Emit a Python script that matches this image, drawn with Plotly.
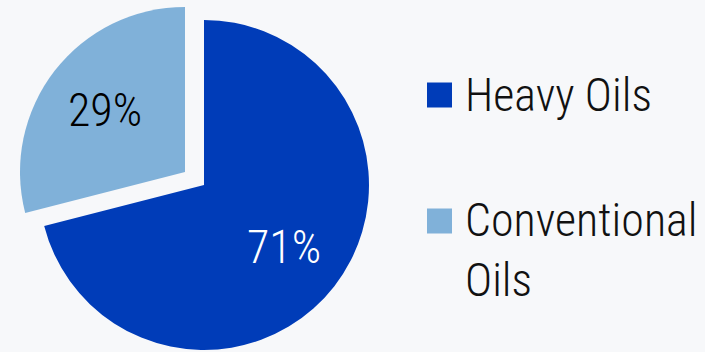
import math
import plotly.graph_objects as go

# Share of oil resources
labels = ["Heavy Oils", "Conventional Oils"]
values = [71, 29]
legend_names = ["Heavy Oils", "Conventional<br>Oils"]
colors = ["#003cb8", "#80b1d9"]
label_colors = ["white", "black"]

W, H = 705, 352
R = 165                      # pie radius in px
CX, CY = 204, 185            # centre of the main pie (px from top-left)
PULL_DX, PULL_DY = -19, -13  # offset of the exploded slice (px)
LABEL_R = 0.61               # radial position of the percentage labels

FONT = "Roboto Condensed, Liberation Sans Narrow, Arial Narrow, sans-serif"


def domain(cx, cy):
    return dict(
        x=[(cx - R) / W, (cx + R) / W],
        y=[(H - cy - R) / H, (H - cy + R) / H],
    )


fig = go.Figure()

# main pie: Heavy Oils slice in place, the other slice left empty
fig.add_trace(go.Pie(
    labels=labels, values=values, sort=False, direction="clockwise",
    domain=domain(CX, CY),
    marker=dict(colors=[colors[0], "rgba(0,0,0,0)"], line=dict(width=0)),
    textinfo="none", showlegend=False, hoverinfo="label+percent",
))

# same pie shifted up-left so the Conventional Oils slice sits exploded
fig.add_trace(go.Pie(
    labels=labels, values=values, sort=False, direction="clockwise",
    domain=domain(CX + PULL_DX, CY + PULL_DY),
    marker=dict(colors=["rgba(0,0,0,0)", colors[1]], line=dict(width=0)),
    textinfo="none", showlegend=False, hoverinfo="label+percent",
))

annotations, shapes = [], []

# percentage labels placed along each slice's bisector
total = sum(values)
start = 0.0
centres = [(CX, CY), (CX + PULL_DX, CY + PULL_DY)]
for v, col, (cx, cy) in zip(values, label_colors, centres):
    mid = (start + v / 2) / total * 2 * math.pi   # clockwise from 12 o'clock
    start += v
    px = cx + LABEL_R * R * math.sin(mid)
    py = cy - LABEL_R * R * math.cos(mid)
    annotations.append(dict(
        text=f"{round(100 * v / total)}%", xref="paper", yref="paper",
        x=px / W, y=1 - py / H, xanchor="center", yanchor="middle",
        showarrow=False,
        font=dict(family=FONT, size=46, color=col, weight=300),
    ))

# legend: coloured squares with large labels
legend_rows = [95, 250]  # vertical centre of each entry (px from top)
for name, col, yc, n_lines in zip(legend_names, colors, legend_rows, [1, 2]):
    sq_y = yc if n_lines == 1 else yc - 29
    shapes.append(dict(
        type="rect", xref="paper", yref="paper",
        x0=427 / W, x1=452 / W,
        y0=1 - (sq_y + 12.5) / H, y1=1 - (sq_y - 12.5) / H,
        fillcolor=col, line=dict(width=0),
    ))
    annotations.append(dict(
        text=name, xref="paper", yref="paper",
        x=463 / W, y=1 - yc / H, xanchor="left", yanchor="middle",
        align="left", showarrow=False,
        font=dict(family=FONT, size=46, color="#111111", weight=350),
    ))

fig.update_layout(
    width=W, height=H,
    margin=dict(l=0, r=0, t=0, b=0),
    paper_bgcolor="#f7f8fa", plot_bgcolor="#f7f8fa",
    shapes=shapes, annotations=annotations,
)

fig.write_html("out.html")
